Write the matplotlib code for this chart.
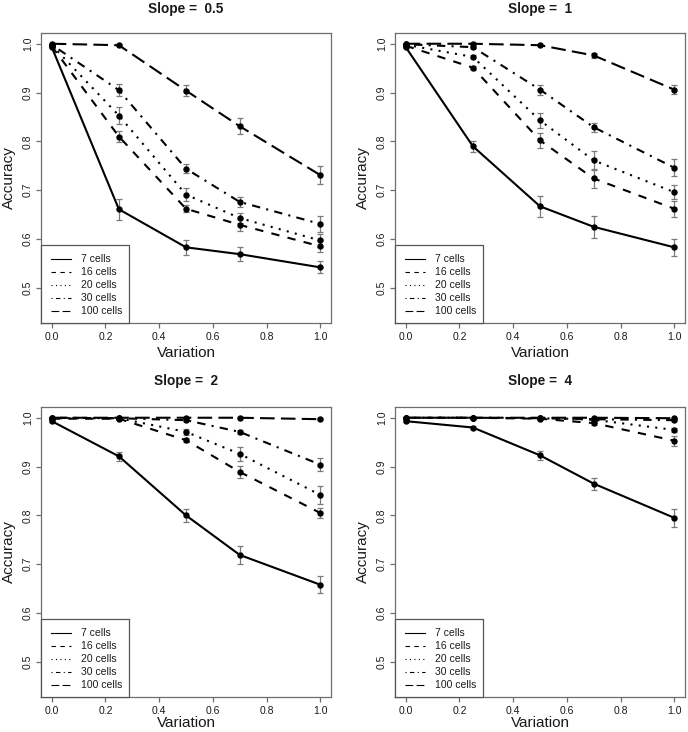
import matplotlib
matplotlib.use("Agg")
import matplotlib.pyplot as plt
import numpy as np

plt.rcParams['font.family'] = ['Liberation Sans', 'DejaVu Sans']

variation = [0.0, 0.25, 0.5, 0.7, 1.0]
cell_labels = ["7 cells", "16 cells", "20 cells", "30 cells", "100 cells"]
slopes = ["0.5", "1", "2", "4"]

# Slope = 0.5
acc_s05 = [
    [0.993, 0.661, 0.583, 0.569, 0.542],
    [0.995, 0.810, 0.662, 0.629, 0.585],
    [0.997, 0.853, 0.691, 0.643, 0.597],
    [0.998, 0.905, 0.744, 0.676, 0.631],
    [1.000, 0.997, 0.904, 0.831, 0.731],
]
err_s05 = [
    [0.002, 0.022, 0.015, 0.014, 0.012],
    [0.001, 0.011, 0.007, 0.012, 0.012],
    [0.001, 0.017, 0.013, 0.011, 0.013],
    [0.001, 0.012, 0.009, 0.010, 0.016],
    [0.000, 0.002, 0.011, 0.016, 0.019],
]
# Slope = 1
acc_s1 = [
    [0.993, 0.790, 0.667, 0.625, 0.583],
    [0.996, 0.951, 0.802, 0.724, 0.662],
    [0.998, 0.973, 0.843, 0.761, 0.696],
    [0.999, 0.993, 0.906, 0.829, 0.746],
    [1.000, 1.000, 0.997, 0.976, 0.906],
]
err_s1 = [
    [0.002, 0.011, 0.022, 0.023, 0.018],
    [0.001, 0.003, 0.015, 0.019, 0.016],
    [0.001, 0.003, 0.015, 0.019, 0.014],
    [0.001, 0.002, 0.010, 0.009, 0.017],
    [0.000, 0.001, 0.002, 0.006, 0.009],
]
# Slope = 2
acc_s2 = [
    [0.993, 0.921, 0.800, 0.719, 0.658],
    [0.998, 0.998, 0.954, 0.889, 0.805],
    [0.999, 0.999, 0.971, 0.926, 0.842],
    [1.000, 0.999, 0.995, 0.971, 0.904],
    [1.000, 1.000, 1.000, 1.000, 0.997],
]
err_s2 = [
    [0.002, 0.009, 0.013, 0.019, 0.017],
    [0.001, 0.001, 0.004, 0.013, 0.011],
    [0.001, 0.001, 0.006, 0.014, 0.018],
    [0.000, 0.001, 0.002, 0.004, 0.013],
    [0.000, 0.000, 0.000, 0.001, 0.002],
]
# Slope = 4
acc_s4 = [
    [0.993, 0.980, 0.923, 0.865, 0.795],
    [1.000, 1.000, 0.998, 0.989, 0.953],
    [1.000, 1.000, 0.999, 0.996, 0.975],
    [1.000, 1.000, 0.999, 0.997, 0.995],
    [1.000, 1.000, 1.000, 1.000, 0.999],
]
err_s4 = [
    [0.002, 0.003, 0.009, 0.012, 0.018],
    [0.000, 0.000, 0.001, 0.003, 0.010],
    [0.000, 0.000, 0.001, 0.002, 0.005],
    [0.000, 0.000, 0.001, 0.001, 0.002],
    [0.000, 0.000, 0.000, 0.000, 0.001],
]

all_acc = [acc_s05, acc_s1, acc_s2, acc_s4]
all_err = [err_s05, err_s1, err_s2, err_s4]

dash_styles = ['-', (0, (4, 4)), (0, (1, 3)), (0, (1, 3, 4, 3)), (0, (7, 3))]

W, H = 688, 732
fig = plt.figure(figsize=(W / 100, H / 100), dpi=100)

# axes boxes in pixel coords: (left, top)
boxes = [(41, 33), (395, 33), (41, 407), (395, 407)]
bw = bh = 290

box_col = '#6e6e6e'
text_col = '#1a1a1a'

for i, (l, t) in enumerate(boxes):
    ax = fig.add_axes([l / W, 1 - (t + bh) / H, bw / W, bh / H])
    acc = all_acc[i]
    err = all_err[i]
    for k in range(5):
        ax.errorbar(variation, acc[k], yerr=err[k], fmt='none', ecolor='#7a7a7a',
                    elinewidth=0.9, capsize=2.2, capthick=0.9, zorder=2)
        ax.plot(variation, acc[k], color='black', linestyle=dash_styles[k],
                linewidth=1.5, marker='o', markersize=3.6, zorder=3)
    ax.set_xlim(-0.04, 1.04)
    ax.set_ylim(0.428, 1.022)
    ax.set_xticks([0.0, 0.2, 0.4, 0.6, 0.8, 1.0])
    ax.set_xticklabels(["0.0", "0.2", "0.4", "0.6", "0.8", "1.0"])
    ax.set_yticks([0.5, 0.6, 0.7, 0.8, 0.9, 1.0])
    ax.set_yticklabels(["0.5", "0.6", "0.7", "0.8", "0.9", "1.0"], rotation=90, va='center')
    for sp in ax.spines.values():
        sp.set_color(box_col)
        sp.set_linewidth(0.9)
    ax.tick_params(axis='both', direction='out', length=3.6, width=0.9, color=box_col,
                   labelsize=7.5, labelcolor=text_col)
    ax.tick_params(axis='x', pad=3.2)
    ax.tick_params(axis='y', pad=2.2)
    ax.set_xlabel("Variation", fontsize=11, color=text_col)
    xl_off = 30 if i < 2 else 26
    ax.xaxis.set_label_coords(0.5, -xl_off / bh)
    ax.xaxis.label.set_va('center')
    ax.set_ylabel("Accuracy", fontsize=11, color=text_col)
    ax.yaxis.set_label_coords(-32 / bw, 0.5)
    ax.yaxis.label.set_va('center')
    title_off = 24 if i < 2 else 26
    ax.text(0.5, 1 + title_off / bh, "Slope =  " + slopes[i], transform=ax.transAxes,
            ha='center', va='center', fontsize=9.8, fontweight='bold', color=text_col)

    # legend (manual, R style)
    lx0, lx1 = 0, 88 / bw
    ly0, ly1 = 0, 78 / bh
    ax.plot([lx0, lx1, lx1, lx0, lx0], [ly0, ly0, ly1, ly1, ly0], transform=ax.transAxes,
            color='#555555', linewidth=0.9, clip_on=False, zorder=4)
    ax.fill([lx0, lx1, lx1, lx0], [ly0, ly0, ly1, ly1], transform=ax.transAxes,
            color='white', zorder=3.5)
    rows = [259, 272, 285, 298, 311]
    for k in range(5):
        yy = (323 - rows[k]) / bh
        ax.plot([10 / bw, 30 / bw], [yy, yy], transform=ax.transAxes, color='black',
                linestyle=dash_styles[k], linewidth=0.8, zorder=5)
        ax.text(40 / bw, yy, cell_labels[k], transform=ax.transAxes, ha='left', va='center',
                fontsize=7.5, color=text_col, zorder=5)

fig.savefig("out.png", dpi=100)
